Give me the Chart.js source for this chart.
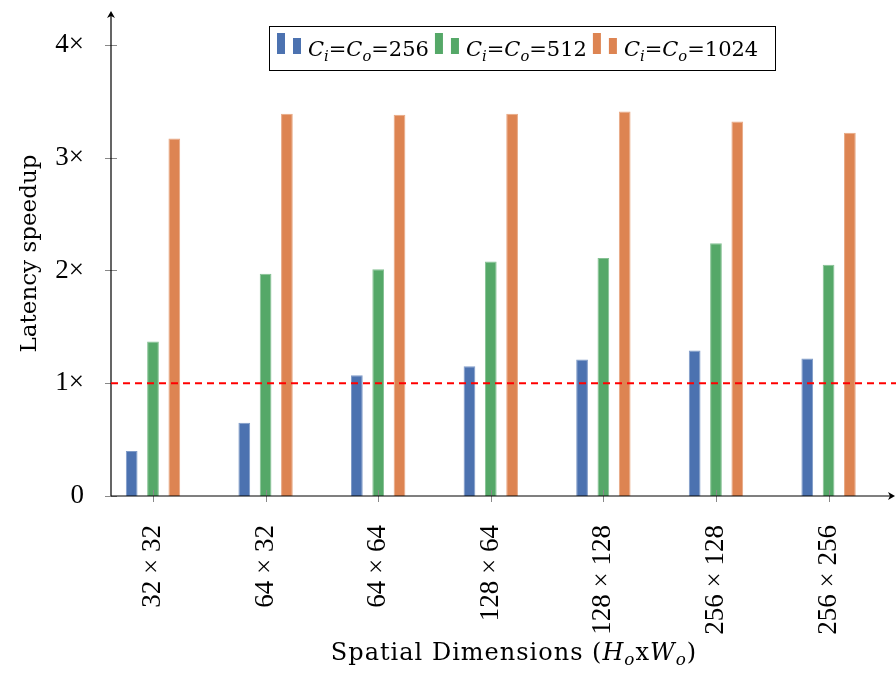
<!DOCTYPE html>
<html>
<head>
<meta charset="utf-8">
<script src="https://cdn.jsdelivr.net/npm/chart.js@4/dist/chart.umd.min.js"></script>
<style>
  html, body { margin: 0; padding: 0; background: #fff; }
  #wrap { width: 896px; height: 675px; position: relative; }
</style>
</head>
<body>
<div id="wrap"><canvas id="chart"></canvas></div>
<script>
// spatial sizes (H_o x W_o) on the x axis
const DIMS = ['32 × 32', '64 × 32', '64 × 64', '128 × 64', '128 × 128', '256 × 128', '256 × 256'];

// latency speedup per channel count
const CHANNELS   = [256, 512, 1024];
const SPEEDUP_256  = [0.40, 0.65, 1.07, 1.15, 1.21, 1.29, 1.22];
const SPEEDUP_512  = [1.37, 1.97, 2.01, 2.08, 2.11, 2.24, 2.05];
const SPEEDUP_1024 = [3.17, 3.39, 3.38, 3.39, 3.41, 3.32, 3.22];

const Y_TICKS  = [0, 1, 2, 3, 4];
const BASELINE = 1;

const COLORS  = ['#4C72B0', '#55A868', '#DD8452'];
const BORDERS = ['#7f9bc8', '#85c193', '#e8a883'];

const TICK_FONT  = 'Liberation Serif';
const TEXT_FONT  = 'DejaVu Serif';
const AXIS_COLOR = '#000';
const MARK_COLOR = '#888';

const toPoints = vals => vals.map((v, i) => ({ x: i + 1, y: v }));

const datasets = [SPEEDUP_256, SPEEDUP_512, SPEEDUP_1024].map((vals, k) => ({
  label:              'C_i=C_o=' + CHANNELS[k],
  data:               toPoints(vals),
  backgroundColor:    COLORS[k],
  borderColor:        BORDERS[k],
  borderWidth:        1,
  categoryPercentage: 0.568,
  barPercentage:      0.55,
}));

// text pieces: n = normal, i = italic, s = italic subscript
function setPartFont(ctx, st, size) {
  const fs = st === 's' ? size * 0.7 : size;
  ctx.font = (st === 'n' ? '' : 'italic ') + fs + 'px "' + TEXT_FONT + '"';
}

function richWidth(ctx, parts, size) {
  let w = 0;
  for (const [t, st] of parts) {
    setPartFont(ctx, st, size);
    w += ctx.measureText(t).width;
  }
  return w;
}

function drawRich(ctx, parts, x, y, size) {
  let cx = x;
  ctx.textAlign = 'left';
  ctx.textBaseline = 'alphabetic';
  for (const [t, st] of parts) {
    setPartFont(ctx, st, size);
    ctx.fillText(t, cx, st === 's' ? y + size * 0.22 : y);
    cx += ctx.measureText(t).width;
  }
  return cx;
}

function arrowHead(ctx, x, y, dir) {
  ctx.beginPath();
  if (dir === 'up') {
    ctx.moveTo(x, y);
    ctx.lineTo(x - 4, y + 7);
    ctx.lineTo(x, y + 5);
    ctx.lineTo(x + 4, y + 7);
  } else {
    ctx.moveTo(x, y);
    ctx.lineTo(x - 7, y - 4);
    ctx.lineTo(x - 5, y);
    ctx.lineTo(x - 7, y + 4);
  }
  ctx.closePath();
  ctx.fill();
}

const axesPlugin = {
  id: 'axes',
  afterDatasetsDraw(chart) {
    const { ctx, chartArea: a, scales: { x, y } } = chart;
    ctx.save();

    // tick marks crossing the axes
    ctx.strokeStyle = MARK_COLOR;
    ctx.lineWidth = 1;
    Y_TICKS.forEach(v => {
      const py = Math.round(y.getPixelForValue(v)) + 0.5;
      ctx.beginPath();
      ctx.moveTo(a.left - 6, py);
      ctx.lineTo(a.left + 6, py);
      ctx.stroke();
    });
    DIMS.forEach((_, i) => {
      const px = Math.round(x.getPixelForValue(i + 1)) + 0.5;
      ctx.beginPath();
      ctx.moveTo(px, a.bottom - 6);
      ctx.lineTo(px, a.bottom + 6);
      ctx.stroke();
    });

    // axis lines with arrows
    ctx.strokeStyle = AXIS_COLOR;
    ctx.fillStyle = AXIS_COLOR;
    ctx.lineWidth = 1.2;
    ctx.beginPath();
    ctx.moveTo(a.left, a.bottom);
    ctx.lineTo(a.left, a.top + 3);
    ctx.moveTo(a.left, a.bottom);
    ctx.lineTo(a.right - 3, a.bottom);
    ctx.stroke();
    arrowHead(ctx, a.left, a.top, 'up');
    arrowHead(ctx, a.right, a.bottom, 'right');

    // 1x reference line
    const by = y.getPixelForValue(BASELINE);
    ctx.strokeStyle = '#ff0000';
    ctx.lineWidth = 2;
    ctx.setLineDash([7, 5]);
    ctx.beginPath();
    ctx.moveTo(a.left, by);
    ctx.lineTo(chart.width, by);
    ctx.stroke();
    ctx.restore();
  },
  afterDraw(chart) {
    const { ctx, chartArea: a } = chart;
    ctx.save();
    ctx.fillStyle = '#000';

    // x axis title with subscripts
    ctx.letterSpacing = '1px';
    const title = [['Spatial Dimensions (', 'n'], ['H', 'i'], ['o', 's'], ['x', 'n'], ['W', 'i'], ['o', 's'], [')', 'n']];
    const tw = richWidth(ctx, title, 24);
    drawRich(ctx, title, 514 - tw / 2, 660, 24);
    ctx.letterSpacing = '0px';

    // legend box
    ctx.strokeStyle = '#000';
    ctx.lineWidth = 1;
    ctx.strokeRect(269.5, 26.5, 506, 44);
    let lx = 277;
    datasets.forEach((ds, k) => {
      ctx.fillStyle = COLORS[k];
      ctx.fillRect(lx, 33, 8, 21);
      ctx.fillRect(lx + 16, 38, 8, 16);
      ctx.fillStyle = '#000';
      const parts = [['C', 'i'], ['i', 's'], ['=', 'n'], ['C', 'i'], ['o', 's'], ['=' + CHANNELS[k], 'n']];
      lx = drawRich(ctx, parts, lx + 31, 56, 21) + 6;
    });
    ctx.restore();
  },
};

new Chart(document.getElementById('chart'), {
  type: 'bar',
  data: { datasets },
  plugins: [axesPlugin],
  options: {
    responsive:          true,
    maintainAspectRatio: false,
    animation:           false,
    devicePixelRatio:    1,
    layout: { padding: { left: 0, right: 1, top: 11, bottom: 0 } },
    plugins: {
      legend:  { display: false },
      tooltip: { enabled: false },
    },
    scales: {
      x: {
        type:   'linear',
        min:    0.627,
        max:    7.59,
        offset: false,
        grid:   { display: false, offset: false },
        border: { display: false },
        afterFit: s => {
          s.height = 179;
          s.paddingLeft = 0;
          s.paddingRight = 0;
        },
        afterBuildTicks: s => { s.ticks = DIMS.map((_, i) => ({ value: i + 1 })); },
        ticks: {
          color:       '#000',
          font:        { family: TICK_FONT, size: 27 },
          minRotation: 90,
          maxRotation: 90,
          autoSkip:    false,
          padding:     21,
          callback:    v => DIMS[v - 1] ?? '',
        },
      },
      y: {
        min: 0,
        max: 4.3,
        grid:   { display: false },
        border: { display: false },
        afterFit: s => {
          s.width = 111;
          s.paddingTop = 0;
          s.paddingBottom = 0;
        },
        afterBuildTicks: s => { s.ticks = Y_TICKS.map(v => ({ value: v })); },
        ticks: {
          color:    '#000',
          font:     { family: TICK_FONT, size: 27 },
          padding:  19,
          callback: v => (v === 0 ? '0' : v + '×'),
        },
        title: {
          display: true,
          text:    'Latency speedup',
          color:   '#000',
          font:    { family: TEXT_FONT, size: 23 },
          padding: { top: 16, bottom: 0 },
        },
      },
    },
  },
});
</script>
</body>
</html>
